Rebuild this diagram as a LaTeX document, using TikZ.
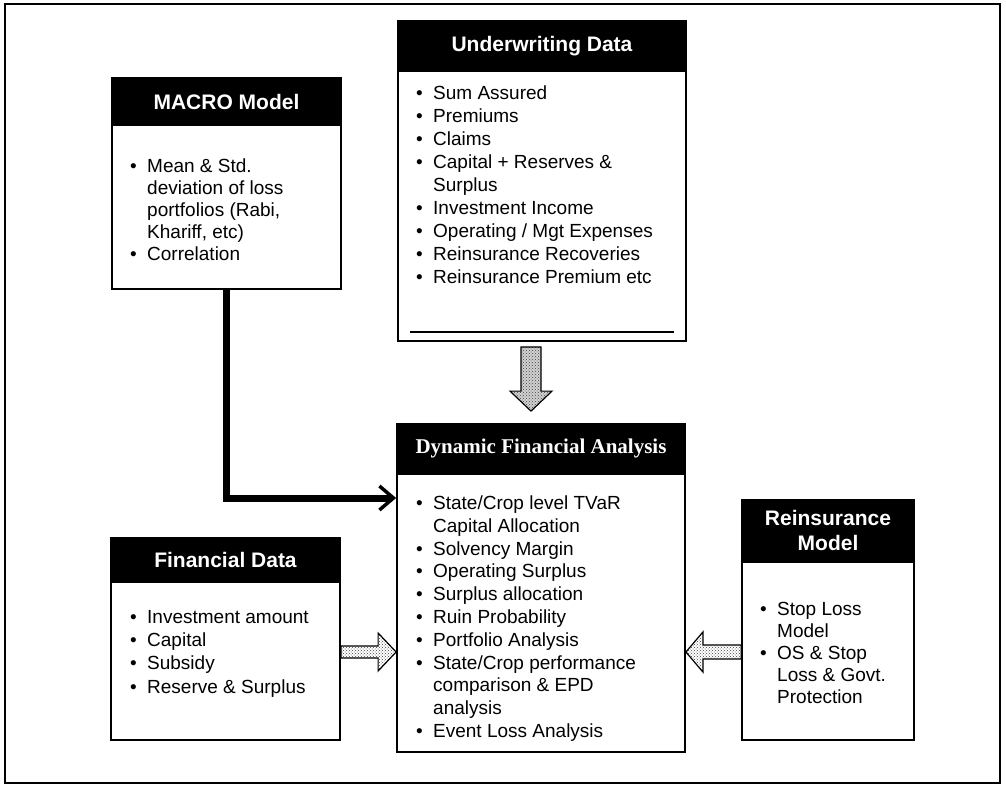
\documentclass[tikz,border=0pt]{standalone}
\usepackage{fontspec}
\setmainfont{Liberation Sans}
\newfontfamily\dfafont{Liberation Serif}
\usetikzlibrary{arrows.meta,patterns,calc}
\newcommand{\bul}{\makebox[17pt][l]{\textbullet}}
\newcommand{\ind}{\hspace*{17pt}}
\begin{document}
\begin{tikzpicture}[x=1pt,y=-1pt,
  hdr/.style={draw=black, fill=black, text=white, line width=1.5pt, inner sep=0pt,
    font=\fontsize{21}{25}\selectfont\bfseries, align=center, anchor=north},
  bodybox/.style={draw=black, line width=1.8pt, fill=white, inner sep=0pt},
  btext/.style={anchor=north west, inner sep=0pt, align=left},
  blockarrow/.style={draw=black, line width=1.2pt, line join=miter, pattern=crosshatch dots, pattern color=black!75},
]
\useasboundingbox (0,0) rectangle (1006,787);
\draw[line width=1.5pt] (5,4) rectangle (1000,783);

% boxes
\node[bodybox, minimum width=229pt, minimum height=211pt] (macro) at (226.5,183.5) {};
\node[hdr, minimum width=229pt, minimum height=47.5pt] (macroH) at (macro.north) {MACRO Model};

\node[bodybox, minimum width=288pt, minimum height=320pt] (uw) at (542,181) {};
\node[hdr, minimum width=288pt, minimum height=50pt] (uwH) at (uw.north) {Underwriting Data};

\node[bodybox, minimum width=288pt, minimum height=328pt] (dfa) at (541,588) {};
\node[hdr, minimum width=288pt, minimum height=50pt, font=\fontsize{21}{25}\selectfont\dfafont\bfseries] (dfaH) at (dfa.north) {Dynamic Financial Analysis};

\node[bodybox, minimum width=229pt, minimum height=202pt] (fin) at (225.5,639) {};
\node[hdr, minimum width=229pt, minimum height=44pt] (finH) at (fin.north) {Financial Data};

\node[bodybox, minimum width=172pt, minimum height=240pt] (re) at (828,620) {};
\node[hdr, minimum width=172pt, minimum height=62pt] (reH) at (re.north) {Reinsurance\\Model};

% texts
\node[btext, font=\fontsize{19}{22}\selectfont] (macroT) at (130,159) {\bul Mean \& Std.\\ \ind deviation of loss\\ \ind portfolios (Rabi,\\ \ind Khariff, etc)\\ \bul Correlation};

\node[btext, font=\fontsize{19}{23}\selectfont] (uwT) at (416,86) {\bul Sum Assured\\ \bul Premiums\\ \bul Claims\\ \bul Capital + Reserves \&\\ \ind Surplus\\ \bul Investment Income\\ \bul Operating / Mgt Expenses\\ \bul Reinsurance Recoveries\\ \bul Reinsurance Premium etc};

\node[btext, font=\fontsize{19}{22.8}\selectfont] (dfaT) at (416,495.5) {\bul State/Crop level TVaR\\ \ind Capital Allocation\\ \bul Solvency Margin\\ \bul Operating Surplus\\ \bul Surplus allocation\\ \bul Ruin Probability\\ \bul Portfolio Analysis\\ \bul State/Crop performance\\ \ind comparison \& EPD\\ \ind analysis\\ \bul Event Loss Analysis};

\node[btext, font=\fontsize{19}{23.3}\selectfont] (finT) at (130,610) {\bul Investment amount\\ \bul Capital\\ \bul Subsidy\\ \bul Reserve \& Surplus};

\node[btext, font=\fontsize{19}{22}\selectfont] (reT) at (760,602) {\bul Stop Loss\\ \ind Model\\ \bul OS \& Stop\\ \ind Loss \& Govt.\\ \ind Protection};

% inner line of underwriting box
\draw[line width=1.5pt] ($(uw.south west)+(13,-10)$) -- ($(uw.south east)+(-13,-10)$);

% MACRO -> DFA thick connector
\draw[line width=7pt, -{Straight Barb[length=14pt, width=24pt, line width=3.5pt]}]
  ($(macro.south)+(-0.5,0)$) |- ($(dfa.west)+(0,-90)$);

% Underwriting -> DFA block arrow
\coordinate (dTop) at ($(uw.south)+(-11,5)$);
\coordinate (dTip) at ($(dfa.north)+(-10,-12)$);
\draw[blockarrow, preaction={fill=gray!35}] ($(dTop)+(-10,0)$) -- ($(dTop)+(10,0)$) -- ($(dTip)+(10,-20)$) -- ($(dTip)+(21,-20)$)
  -- (dTip) -- ($(dTip)+(-21,-20)$) -- ($(dTip)+(-10,-20)$) -- cycle;

% Financial -> DFA block arrow
\coordinate (rStart) at ($(fin.east)+(0,13)$);
\coordinate (rTip) at (dfa.west |- rStart);
\draw[blockarrow] ($(rStart)+(0,-6)$) -- ($(rTip)+(-18,-6)$) -- ($(rTip)+(-18,-19)$) -- (rTip)
  -- ($(rTip)+(-18,19)$) -- ($(rTip)+(-18,6)$) -- ($(rStart)+(0,6)$) -- cycle;

% Reinsurance -> DFA block arrow
\coordinate (lStart) at ($(re.west)+(0,32)$);
\coordinate (lTip) at (dfa.east |- lStart);
\draw[blockarrow] ($(lStart)+(0,-7)$) -- ($(lTip)+(17,-7)$) -- ($(lTip)+(17,-20)$) -- (lTip)
  -- ($(lTip)+(17,20)$) -- ($(lTip)+(17,7)$) -- ($(lStart)+(0,7)$) -- cycle;
\end{tikzpicture}
\end{document}
